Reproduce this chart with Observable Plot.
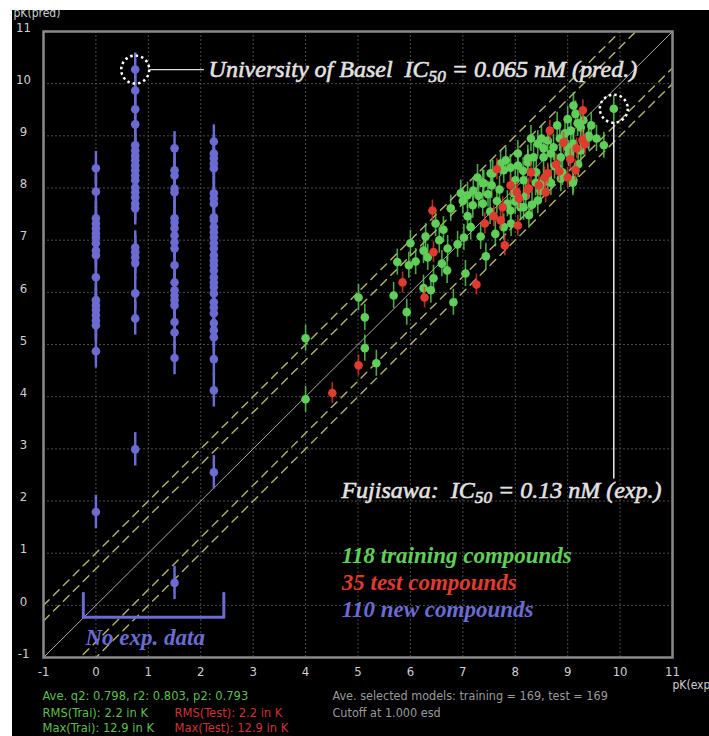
<!DOCTYPE html>
<html><head><meta charset="utf-8">
<script src="https://cdn.jsdelivr.net/npm/d3@7"></script>
<script src="https://cdn.jsdelivr.net/npm/@observablehq/plot@0.6"></script>
<style>
html,body{margin:0;padding:0;background:#fff;overflow:hidden;width:709px;height:736px}
#chart{position:absolute;left:12px;top:10px;width:697px;height:726px;background:#000;overflow:hidden}
#chart svg{display:block;overflow:hidden}
</style></head><body><div id="chart"></div>
<script>
// ---------- data ----------
const axisTicks = [-1,0,1,2,3,4,5,6,7,8,9,10,11];
const bandOffsets = [-1.0,-0.7,0.7,1.0];
const diagonal = [[-1,-1],[11,11]];

const newX = [0, 0.75, 1.5, 2.25];
const newY0 = [8.38,7.93,7.42,7.32,7.23,7.13,7.05,6.94,6.80,6.71,6.29,5.85,5.75,5.66,5.56,5.46,5.37,4.87,1.79];
const newY1 = [10.27,9.87,9.51,9.22,8.82,8.72,8.62,8.53,8.43,8.34,8.24,8.15,8.01,7.92,7.82,7.70,7.61,6.86,6.77,6.67,6.56,5.98,5.50,2.99];
const newY2 = [8.76,8.34,8.24,7.99,7.92,7.42,7.34,7.23,7.09,6.96,6.84,6.52,6.19,6.04,5.94,5.85,5.75,5.43,5.23,4.74,0.43];
const newY3 = [8.89,8.66,8.57,8.47,8.38,7.90,7.80,7.70,7.44,7.38,7.25,7.15,7.05,6.94,6.84,6.71,6.61,6.52,6.42,6.29,6.19,6.10,5.98,5.81,5.71,5.60,5.41,5.27,5.14,4.72,4.12,2.55];
const newErr = 0.32;

const training = [
[4.00,5.12],[4.00,3.95],[5.01,5.90],[5.13,5.52],[5.13,4.93],[5.35,4.64],[5.68,5.94],[5.93,5.62],[5.75,6.58],[5.97,6.52],
[6.00,6.94],[6.10,6.59],[6.25,6.80],[6.29,7.07],[6.33,6.67],[6.25,6.08],[6.39,6.04],[6.44,6.27],[6.48,7.32],[6.63,7.20],
[6.71,6.84],[6.77,7.61],[6.82,5.81],[7.02,7.05],[7.05,6.36],[7.09,7.46],[6.96,7.90],[7.09,7.86],[7.19,7.67],[7.38,7.70],
[7.34,7.07],[7.44,6.69],[7.38,8.10],[7.55,8.05],[7.57,8.28],[7.78,7.25],[7.91,7.57],[7.97,7.90],[7.72,8.47],[7.82,8.53],
[8.05,8.66],[8.05,8.43],[8.24,8.49],[8.35,8.59],[8.10,7.63],[8.16,7.63],[8.26,7.48],[8.43,7.76],[8.48,7.95],[8.54,8.10],
[8.62,8.20],[8.43,8.85],[8.54,8.76],[8.68,8.66],[8.62,8.91],[8.87,8.18],[9.10,8.10],[9.02,8.66],[9.11,8.78],[9.25,9.16],
[9.19,9.24],[9.06,9.10],[9.40,9.00],[9.69,8.82],[9.88,9.52],[9.11,9.58],[9.40,8.97],[9.11,8.85],[8.99,8.78],[8.73,8.78],
[8.54,8.59],[8.87,8.59],[9.25,8.72],[8.24,8.57],[9.11,8.15],[7.53,8.28],[7.78,8.34],[7.91,8.39],[8.68,8.10],[8.39,8.10],
[8.16,8.15],[7.40,8.09],[7.28,8.20],[7.20,7.95],[7.30,7.85],[7.48,7.88],[7.65,7.75],[7.70,7.97],[7.85,7.70],[8.00,7.74],
[8.20,7.85],[8.32,7.68],[8.40,8.30],[8.75,8.42],[8.85,8.95],[8.95,9.05],[9.30,8.88],[9.20,8.45],[7.62,7.12],[7.92,7.32],
[8.00,8.15],[8.15,8.33],[8.80,9.20],[9.00,9.32],[6.60,6.55],[6.90,6.92],[6.70,6.42],[7.15,7.25],[9.55,8.95],[9.30,9.30],
[8.50,8.95],[7.00,7.75],[8.90,8.30],[9.15,9.42],[7.52,7.55],[6.55,7.00],[8.30,8.95],[9.45,9.20]
];
const trainErr = 0.25;

const testing = [
[4.51,4.07],[5.01,4.60],[5.85,6.19],[6.27,5.90],[6.44,6.77],[6.42,7.57],[7.26,6.15],[7.42,7.32],[7.59,7.46],[7.72,7.38],
[7.76,7.63],[7.80,6.90],[7.91,8.05],[8.03,7.92],[8.07,7.80],[8.05,7.28],[8.24,7.97],[8.30,8.30],[8.58,7.92],[8.56,8.20],
[8.66,9.10],[8.78,8.45],[8.84,8.32],[8.92,8.87],[9.00,8.20],[9.15,8.34],[9.17,8.76],[9.28,8.92],[9.33,8.84],[9.29,9.49],
[7.65,8.36],[8.26,7.99],[8.45,8.05],[9.05,8.55],[8.62,8.28]
];
const testErr = 0.2;

const baselPoint = [[0.75,10.27]];
const fujiPoint = [[9.88,9.52]];
const baselLeader = [[1.04,10.27],[2.05,10.27]];
const fujiLeader = [[9.88,9.26],[9.88,2.44]];
const bracket = [[-0.24,0.23],[-0.24,-0.23],[2.44,-0.23],[2.44,0.23]];
const baselLabel = "University of Basel  IC{50} = 0.065 nM (pred.)";
const fujiLabel = "Fujisawa:  IC{50} = 0.13 nM (exp.)";
const legendLabels = ["118 training compounds","35 test compounds","110 new compounds"];
const legendY = [0.96,0.43,-0.09];
const noDataLabel = "No exp. data";
const yLabel = "pK(pred)";
const xLabel = "pK(exp)";
const footerGreen = ["Ave. q2: 0.798, r2: 0.803, p2: 0.793","RMS(Trai): 2.2 in K","Max(Trai): 12.9 in K"];
const footerRed = ["RMS(Test): 2.2 in K","Max(Test): 12.9 in K"];
const footerGray = ["Ave. selected models: training = 169, test = 169","Cutoff at 1.000 esd"];

// ---------- build ----------
const GREEN="#60cf5a", RED="#e03b2f", BLUE="#6b6bd2";
const sans = "'Liberation Sans Narrow','DejaVu Sans Condensed','Arial Narrow','Roboto','DejaVu Sans',sans-serif";
const serif = "'Liberation Serif','DejaVu Serif',serif";

const newCols=[newY0,newY1,newY2,newY3];
const blue = newCols.flatMap((ys,i)=>ys.map(y=>({x:newX[i],y})));
const train = training.map(([x,y])=>({x,y}));
const test = testing.map(([x,y])=>({x,y}));
const bands = bandOffsets.flatMap(o=>diagonal.map(([x,y])=>({o,x,y:y+o})));
const legend = legendLabels.map((t,i)=>({t,y:legendY[i],c:[GREEN,RED,BLUE][i]}));
const fmt = d => String(d);

const marks = [
  Plot.gridX(axisTicks,{stroke:"#4c4c4c",strokeOpacity:1,strokeDasharray:"2,2"}),
  Plot.gridY(axisTicks,{stroke:"#4c4c4c",strokeOpacity:1,strokeDasharray:"2,2"}),
  Plot.line(bands,{x:"x",y:"y",z:"o",stroke:"#b4b46a",strokeWidth:1.4,strokeDasharray:"8,6",clip:true}),
  Plot.line(diagonal,{x:d=>d[0],y:d=>d[1],stroke:"#bdbdbd",strokeWidth:0.9,clip:true}),
  Plot.frame({stroke:"#8a8a8a",strokeWidth:2.5}),
  Plot.axisX(axisTicks,{tickSize:0,tickPadding:9,tickFormat:fmt,label:null,fill:"#cfcfcf",fontSize:13}),
  Plot.axisY(axisTicks,{tickSize:0,tickPadding:20,tickFormat:fmt,textAnchor:"middle",dy:-4,label:null,fill:"#cfcfcf",fontSize:13}),
  // new compounds
  Plot.ruleX(blue,{x:"x",y1:d=>d.y-newErr,y2:d=>d.y+newErr,stroke:BLUE,strokeWidth:2.5}),
  Plot.dot(blue,{x:"x",y:"y",r:4.3,fill:BLUE}),
  // training
  Plot.ruleX(train,{x:"x",y1:d=>d.y-trainErr,y2:d=>d.y+trainErr,stroke:GREEN,strokeWidth:1.6,strokeOpacity:0.8}),
  Plot.dot(train,{x:"x",y:"y",r:4.3,fill:GREEN}),
  // test
  Plot.ruleX(test,{x:"x",y1:d=>d.y-testErr,y2:d=>d.y+testErr,stroke:RED,strokeWidth:1.6,strokeOpacity:0.8}),
  Plot.dot(test,{x:"x",y:"y",r:4.3,fill:RED}),
  // annotations
  Plot.dot(baselPoint.concat(fujiPoint),{x:d=>d[0],y:d=>d[1],r:14,stroke:"#fff",strokeWidth:2.5,strokeDasharray:"2.5,3",fill:"none"}),
  Plot.line(baselLeader,{x:d=>d[0],y:d=>d[1],stroke:"#ddd",strokeWidth:1.3}),
  Plot.line(fujiLeader,{x:d=>d[0],y:d=>d[1],stroke:"#eee",strokeWidth:1.5}),
  Plot.text([baselLabel],{x:()=>2.15,y:()=>10.27,text:d=>d,textAnchor:"start",fill:"#e2e2e2",stroke:"#e2e2e2",strokeWidth:0.6,fontSize:24,fontStyle:"italic",fontFamily:serif}),
  Plot.text([fujiLabel],{x:()=>10.79,y:()=>2.21,text:d=>d,textAnchor:"end",fill:"#e2e2e2",stroke:"#e2e2e2",strokeWidth:0.6,fontSize:24,fontStyle:"italic",fontFamily:serif}),
  Plot.text(legend,{x:()=>4.69,y:"y",text:"t",fill:"c",textAnchor:"start",fontSize:23,fontStyle:"italic",fontWeight:"bold",fontFamily:serif}),
  Plot.line(bracket,{x:d=>d[0],y:d=>d[1],stroke:BLUE,strokeWidth:3}),
  Plot.text([noDataLabel],{x:()=>-0.2,y:()=>-0.61,text:d=>d,textAnchor:"start",fill:BLUE,fontSize:23,fontStyle:"italic",fontWeight:"bold",fontFamily:serif}),
  // axis labels
  Plot.text([yLabel],{frameAnchor:"top-left",text:d=>d,textAnchor:"start",dx:-30,dy:-23,fill:"#cfcfcf",fontSize:12}),
  Plot.text([xLabel],{frameAnchor:"bottom-right",text:d=>d,textAnchor:"start",dx:0,dy:31,fill:"#cfcfcf",fontSize:12}),
  // footer
  ...footerGreen.map((s,i)=>Plot.text([s],{frameAnchor:"bottom-left",text:d=>d,textAnchor:"start",dx:-1,dy:42+[0,17,32][i],fill:"#5cbf52",fontSize:12.8})),
  ...footerRed.map((s,i)=>Plot.text([s],{frameAnchor:"bottom-left",text:d=>d,textAnchor:"start",dx:131,dy:59+i*15,fill:"#cf3434",fontSize:12.8})),
  ...footerGray.map((s,i)=>Plot.text([s],{frameAnchor:"bottom-left",text:d=>d,textAnchor:"start",dx:289,dy:42+i*17,fill:"#9a9a9a",fontSize:12.5}))
];

const svg = Plot.plot({
  width:697,height:726,
  marginLeft:31,marginTop:21,marginRight:37,marginBottom:79,
  x:{domain:[-1,11]},y:{domain:[-1,11]},
  style:{background:"#000",color:"#cfcfcf",fontFamily:sans,fontSize:"12px",fontStretch:"condensed",overflow:"hidden"},
  marks
});

// subscripts "{50}" -> tspans
d3.select(svg).selectAll("text").each(function(){
  const t=this.textContent;
  if(!/\{\d+\}/.test(t)) return;
  const parts=t.split(/\{(\d+)\}/);
  const sel=d3.select(this).text(null).style("white-space","pre");
  parts.forEach((p,i)=>{
    if(!p) return;
    const ts=sel.append("tspan").text(p);
    if(i%2===1) ts.attr("font-size","72%").attr("dy","5");
    else if(i>0) ts.attr("dy","-5");
  });
});
document.getElementById("chart").appendChild(svg);
</script></body></html>
